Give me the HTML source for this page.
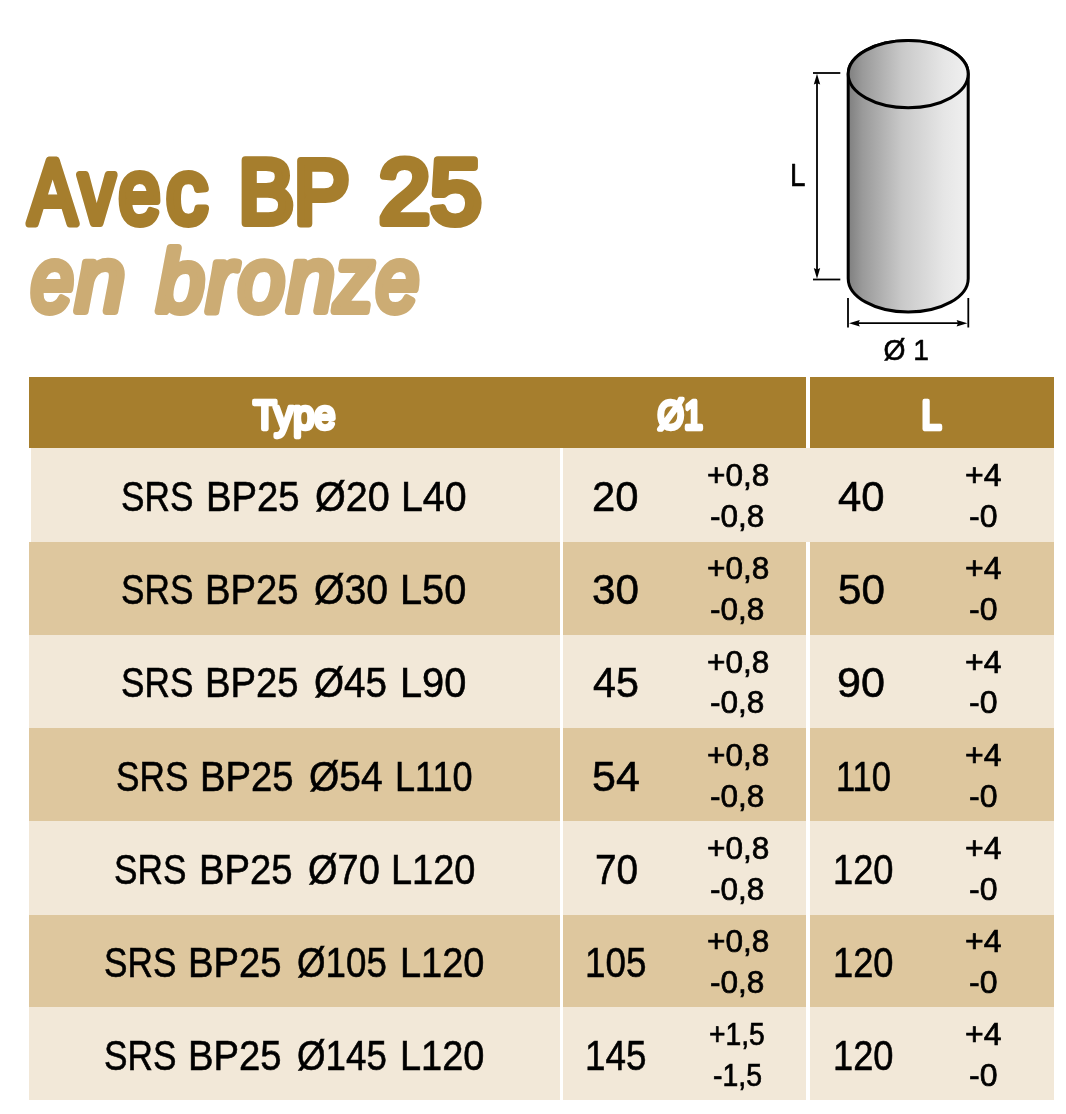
<!DOCTYPE html>
<html lang="fr">
<head>
<meta charset="utf-8">
<title>Avec BP 25 en bronze</title>
<style>
html,body{margin:0;padding:0;background:#fff;}
body{width:1066px;height:1114px;position:relative;overflow:hidden;font-family:"Liberation Sans",sans-serif;}
.t{position:absolute;white-space:nowrap;transform-origin:0 0;display:block;-webkit-text-stroke:0.6px #000;}
.s{-webkit-text-stroke:0.7px #000;}
.title{position:absolute;left:0;top:0;width:560px;height:370px;will-change:transform;}
.fig{position:absolute;left:760px;top:0;width:306px;height:377px;will-change:transform;}
.tbl{position:absolute;left:0;top:0;width:1066px;height:1114px;will-change:transform;}
.hd{position:absolute;left:29px;top:377.3px;width:1024.5px;height:70.5px;background:#A67E2D;}
.row{position:absolute;left:29px;width:1024.5px;height:93.63px;}
.row.l{background:#F2E8D8;}
.row.d{background:#DEC79E;}
.vl{position:absolute;background:#fff;}
.hsvg{position:absolute;left:29px;top:377px;}
</style>
</head>
<body>

<svg class="title" width="560" height="370" viewBox="0 0 560 370">
<g font-family="Liberation Sans, sans-serif" font-weight="400" stroke-linejoin="round" stroke-linecap="round" stroke-width="8" fill="#A67E2D" stroke="#A67E2D">
<text x="28.40" y="223" font-size="90" textLength="48.12" lengthAdjust="spacingAndGlyphs">A</text>
<text x="79.10" y="223" font-size="90" textLength="35.70" lengthAdjust="spacingAndGlyphs">v</text>
<text x="118.80" y="223" font-size="90" textLength="41.64" lengthAdjust="spacingAndGlyphs">e</text>
<text x="166.35" y="223" font-size="90" textLength="41.29" lengthAdjust="spacingAndGlyphs">c</text>
<text x="238.5" y="223" font-size="90" textLength="111" lengthAdjust="spacingAndGlyphs">BP</text>
<text x="379" y="223" font-size="90" textLength="102.3" lengthAdjust="spacingAndGlyphs">25</text>
</g>
<g font-family="Liberation Sans, sans-serif" font-weight="400" font-style="italic" stroke-linejoin="round" stroke-linecap="round" stroke-width="8" fill="#CCAC74" stroke="#CCAC74">
<text x="31.05" y="311" font-size="90" textLength="42.55" lengthAdjust="spacingAndGlyphs">e</text>
<text x="75.61" y="311" font-size="90" textLength="49.39" lengthAdjust="spacingAndGlyphs">n</text>
<text x="157.23" y="311" font-size="87" textLength="46.88" lengthAdjust="spacingAndGlyphs">b</text>
<text x="206.44" y="311" font-size="90" textLength="28.85" lengthAdjust="spacingAndGlyphs">r</text>
<text x="238.25" y="311" font-size="90" textLength="46.25" lengthAdjust="spacingAndGlyphs">o</text>
<text x="287.26" y="311" font-size="90" textLength="47.27" lengthAdjust="spacingAndGlyphs">n</text>
<text x="334.48" y="311" font-size="90" textLength="39.40" lengthAdjust="spacingAndGlyphs">z</text>
<text x="376.02" y="311" font-size="90" textLength="43.00" lengthAdjust="spacingAndGlyphs">e</text>
</g>
</svg>

<svg class="fig" width="306" height="377" viewBox="760 0 306 377">
<defs>
<linearGradient id="cg" x1="0" y1="0" x2="1" y2="0">
<stop offset="0" stop-color="#7f7f7f"/>
<stop offset="0.12" stop-color="#9a9a9a"/>
<stop offset="0.45" stop-color="#c9c9c9"/>
<stop offset="0.8" stop-color="#e6e6e6"/>
<stop offset="1" stop-color="#f0f0f0"/>
</linearGradient>
</defs>
<path d="M848.2 74.1 L848.2 278.4 A60 33.6 0 0 0 968.2 278.4 L968.2 74.1 A60 33.6 0 0 0 848.2 74.1 Z" fill="url(#cg)" stroke="#000" stroke-width="3" stroke-linejoin="round"/>
<ellipse cx="908.2" cy="74.1" rx="60" ry="33.6" fill="url(#cg)" stroke="#000" stroke-width="3"/>
<g stroke="#000" stroke-width="1.8" fill="none">
<line x1="813" y1="73" x2="840.3" y2="73"/>
<line x1="813" y1="279.5" x2="840.3" y2="279.5"/>
<line x1="817" y1="80" x2="817" y2="272"/>
<line x1="848" y1="298" x2="848" y2="327.5"/>
<line x1="968.3" y1="298" x2="968.3" y2="327.5"/>
<line x1="855" y1="323.2" x2="961" y2="323.2"/>
</g>
<g fill="#000">
<path d="M817 73.8 L813.8 84.6 L817 83.2 L820.2 84.6 Z"/>
<path d="M817 278.8 L813.8 268 L817 269.4 L820.2 268 Z"/>
<path d="M849 323.2 L859.8 320 L858.4 323.2 L859.8 326.4 Z"/>
<path d="M967.4 323.2 L956.6 320 L958 323.2 L956.6 326.4 Z"/>
</g>
<g font-family="Liberation Sans, sans-serif" fill="#000" stroke="#000" stroke-width="0.6" stroke-linejoin="round">
<text x="790" y="185.7" font-size="30.5" textLength="15.5" lengthAdjust="spacingAndGlyphs">L</text>
<text x="883.4" y="360.4" font-size="29.3" textLength="45.5" lengthAdjust="spacingAndGlyphs">Ø 1</text>
</g>
</svg>

<div class="tbl">
<div class="hd"></div>
<div class="row l" style="top:447.80px;height:94.00px;left:31px;width:1022.5px;"></div>
<div class="row d" style="top:541.50px;height:93.40px;"></div>
<div class="row l" style="top:634.60px;height:93.70px;"></div>
<div class="row d" style="top:728.00px;height:93.30px;"></div>
<div class="row l" style="top:821.00px;height:93.80px;"></div>
<div class="row d" style="top:914.50px;height:92.90px;"></div>
<div class="row l" style="top:1007.10px;height:93.30px;"></div>
<div class="vl" style="left:560.3px;top:447.8px;width:3.2px;height:652.6px"></div>
<div class="vl" style="left:806.3px;top:377.3px;width:3.6px;height:70.5px"></div>
<div class="vl" style="left:806.3px;top:541.5px;width:3.6px;height:558.9px"></div>
<svg class="hsvg" width="1025" height="71" viewBox="29 377 1025 71">
<g font-family="Liberation Sans, sans-serif" font-weight="400" font-size="40.5" fill="#fff" stroke="#fff" stroke-width="4.3" stroke-linejoin="round" stroke-linecap="round">
<text x="253.2" y="428.8" textLength="82.3" lengthAdjust="spacingAndGlyphs">Type</text>
<text x="657.4" y="428.8" textLength="45.5" lengthAdjust="spacingAndGlyphs">Ø1</text>
<text x="921.4" y="428.8" textLength="20" lengthAdjust="spacingAndGlyphs">L</text>
</g>
</svg>

<span class="t " style="left:121.38px;top:474.50px;font-size:43px;line-height:43px;font-weight:400;color:#000;transform:scaleX(0.8188)">SRS</span>
<span class="t " style="left:205.73px;top:474.50px;font-size:43px;line-height:43px;font-weight:400;color:#000;transform:scaleX(0.8896)">BP25</span>
<span class="t " style="left:314.78px;top:474.50px;font-size:43px;line-height:43px;font-weight:400;color:#000;transform:scaleX(0.9211)">Ø20</span>
<span class="t " style="left:401.16px;top:474.50px;font-size:43px;line-height:43px;font-weight:400;color:#000;transform:scaleX(0.9141)">L40</span>
<span class="t " style="left:592.35px;top:474.50px;font-size:43px;line-height:43px;font-weight:400;color:#000;transform:scaleX(0.9730)">20</span>
<span class="t s" style="left:706.58px;top:459.76px;font-size:31px;line-height:31px;font-weight:400;color:#000;transform:scaleX(1.0177)">+0,8</span>
<span class="t s" style="left:710.48px;top:500.56px;font-size:31px;line-height:31px;font-weight:400;color:#000;transform:scaleX(1.0180)">-0,8</span>
<span class="t " style="left:838.10px;top:474.50px;font-size:43px;line-height:43px;font-weight:400;color:#000;transform:scaleX(0.9741)">40</span>
<span class="t s" style="left:965.07px;top:459.76px;font-size:31px;line-height:31px;font-weight:400;color:#000;transform:scaleX(1.0322)">+4</span>
<span class="t s" style="left:968.77px;top:500.56px;font-size:31px;line-height:31px;font-weight:400;color:#000;transform:scaleX(1.0333)">-0</span>
<span class="t " style="left:120.98px;top:568.20px;font-size:43px;line-height:43px;font-weight:400;color:#000;transform:scaleX(0.8188)">SRS</span>
<span class="t " style="left:205.33px;top:568.20px;font-size:43px;line-height:43px;font-weight:400;color:#000;transform:scaleX(0.8896)">BP25</span>
<span class="t " style="left:314.39px;top:568.20px;font-size:43px;line-height:43px;font-weight:400;color:#000;transform:scaleX(0.9123)">Ø30</span>
<span class="t " style="left:400.43px;top:568.20px;font-size:43px;line-height:43px;font-weight:400;color:#000;transform:scaleX(0.9244)">L50</span>
<span class="t " style="left:592.42px;top:568.20px;font-size:43px;line-height:43px;font-weight:400;color:#000;transform:scaleX(0.9801)">30</span>
<span class="t s" style="left:706.58px;top:553.46px;font-size:31px;line-height:31px;font-weight:400;color:#000;transform:scaleX(1.0177)">+0,8</span>
<span class="t s" style="left:710.48px;top:594.26px;font-size:31px;line-height:31px;font-weight:400;color:#000;transform:scaleX(1.0180)">-0,8</span>
<span class="t " style="left:837.82px;top:568.20px;font-size:43px;line-height:43px;font-weight:400;color:#000;transform:scaleX(0.9801)">50</span>
<span class="t s" style="left:965.07px;top:553.46px;font-size:31px;line-height:31px;font-weight:400;color:#000;transform:scaleX(1.0322)">+4</span>
<span class="t s" style="left:968.77px;top:594.26px;font-size:31px;line-height:31px;font-weight:400;color:#000;transform:scaleX(1.0333)">-0</span>
<span class="t " style="left:120.98px;top:661.30px;font-size:43px;line-height:43px;font-weight:400;color:#000;transform:scaleX(0.8188)">SRS</span>
<span class="t " style="left:205.33px;top:661.30px;font-size:43px;line-height:43px;font-weight:400;color:#000;transform:scaleX(0.8896)">BP25</span>
<span class="t " style="left:314.40px;top:661.30px;font-size:43px;line-height:43px;font-weight:400;color:#000;transform:scaleX(0.8984)">Ø45</span>
<span class="t " style="left:400.43px;top:661.30px;font-size:43px;line-height:43px;font-weight:400;color:#000;transform:scaleX(0.9244)">L90</span>
<span class="t " style="left:592.50px;top:661.30px;font-size:43px;line-height:43px;font-weight:400;color:#000;transform:scaleX(0.9592)">45</span>
<span class="t s" style="left:706.58px;top:646.56px;font-size:31px;line-height:31px;font-weight:400;color:#000;transform:scaleX(1.0177)">+0,8</span>
<span class="t s" style="left:710.48px;top:687.36px;font-size:31px;line-height:31px;font-weight:400;color:#000;transform:scaleX(1.0180)">-0,8</span>
<span class="t " style="left:836.80px;top:661.30px;font-size:43px;line-height:43px;font-weight:400;color:#000;transform:scaleX(1.0019)">90</span>
<span class="t s" style="left:965.07px;top:646.56px;font-size:31px;line-height:31px;font-weight:400;color:#000;transform:scaleX(1.0322)">+4</span>
<span class="t s" style="left:968.77px;top:687.36px;font-size:31px;line-height:31px;font-weight:400;color:#000;transform:scaleX(1.0333)">-0</span>
<span class="t " style="left:116.08px;top:754.70px;font-size:43px;line-height:43px;font-weight:400;color:#000;transform:scaleX(0.8188)">SRS</span>
<span class="t " style="left:200.43px;top:754.70px;font-size:43px;line-height:43px;font-weight:400;color:#000;transform:scaleX(0.8896)">BP25</span>
<span class="t " style="left:309.49px;top:754.70px;font-size:43px;line-height:43px;font-weight:400;color:#000;transform:scaleX(0.9072)">Ø54</span>
<span class="t " style="left:394.68px;top:754.70px;font-size:43px;line-height:43px;font-weight:400;color:#000;transform:scaleX(0.8391)">L110</span>
<span class="t " style="left:591.50px;top:754.70px;font-size:43px;line-height:43px;font-weight:400;color:#000;transform:scaleX(0.9997)">54</span>
<span class="t s" style="left:706.58px;top:739.96px;font-size:31px;line-height:31px;font-weight:400;color:#000;transform:scaleX(1.0177)">+0,8</span>
<span class="t s" style="left:710.48px;top:780.76px;font-size:31px;line-height:31px;font-weight:400;color:#000;transform:scaleX(1.0180)">-0,8</span>
<span class="t " style="left:835.50px;top:754.70px;font-size:43px;line-height:43px;font-weight:400;color:#000;transform:scaleX(0.8014)">110</span>
<span class="t s" style="left:965.07px;top:739.96px;font-size:31px;line-height:31px;font-weight:400;color:#000;transform:scaleX(1.0322)">+4</span>
<span class="t s" style="left:968.77px;top:780.76px;font-size:31px;line-height:31px;font-weight:400;color:#000;transform:scaleX(1.0333)">-0</span>
<span class="t " style="left:114.18px;top:847.70px;font-size:43px;line-height:43px;font-weight:400;color:#000;transform:scaleX(0.8188)">SRS</span>
<span class="t " style="left:198.53px;top:847.70px;font-size:43px;line-height:43px;font-weight:400;color:#000;transform:scaleX(0.8896)">BP25</span>
<span class="t " style="left:307.62px;top:847.70px;font-size:43px;line-height:43px;font-weight:400;color:#000;transform:scaleX(0.8833)">Ø70</span>
<span class="t " style="left:390.85px;top:847.70px;font-size:43px;line-height:43px;font-weight:400;color:#000;transform:scaleX(0.8829)">L120</span>
<span class="t " style="left:595.20px;top:847.70px;font-size:43px;line-height:43px;font-weight:400;color:#000;transform:scaleX(0.9017)">70</span>
<span class="t s" style="left:706.58px;top:832.96px;font-size:31px;line-height:31px;font-weight:400;color:#000;transform:scaleX(1.0177)">+0,8</span>
<span class="t s" style="left:710.48px;top:873.76px;font-size:31px;line-height:31px;font-weight:400;color:#000;transform:scaleX(1.0180)">-0,8</span>
<span class="t " style="left:833.07px;top:847.70px;font-size:43px;line-height:43px;font-weight:400;color:#000;transform:scaleX(0.8433)">120</span>
<span class="t s" style="left:965.07px;top:832.96px;font-size:31px;line-height:31px;font-weight:400;color:#000;transform:scaleX(1.0322)">+4</span>
<span class="t s" style="left:968.77px;top:873.76px;font-size:31px;line-height:31px;font-weight:400;color:#000;transform:scaleX(1.0333)">-0</span>
<span class="t " style="left:103.68px;top:941.20px;font-size:43px;line-height:43px;font-weight:400;color:#000;transform:scaleX(0.8188)">SRS</span>
<span class="t " style="left:188.03px;top:941.20px;font-size:43px;line-height:43px;font-weight:400;color:#000;transform:scaleX(0.8896)">BP25</span>
<span class="t " style="left:297.15px;top:941.20px;font-size:43px;line-height:43px;font-weight:400;color:#000;transform:scaleX(0.8540)">Ø105</span>
<span class="t " style="left:399.85px;top:941.20px;font-size:43px;line-height:43px;font-weight:400;color:#000;transform:scaleX(0.8829)">L120</span>
<span class="t " style="left:584.53px;top:941.20px;font-size:43px;line-height:43px;font-weight:400;color:#000;transform:scaleX(0.8566)">105</span>
<span class="t s" style="left:706.58px;top:926.46px;font-size:31px;line-height:31px;font-weight:400;color:#000;transform:scaleX(1.0177)">+0,8</span>
<span class="t s" style="left:710.48px;top:967.26px;font-size:31px;line-height:31px;font-weight:400;color:#000;transform:scaleX(1.0180)">-0,8</span>
<span class="t " style="left:833.07px;top:941.20px;font-size:43px;line-height:43px;font-weight:400;color:#000;transform:scaleX(0.8433)">120</span>
<span class="t s" style="left:965.07px;top:926.46px;font-size:31px;line-height:31px;font-weight:400;color:#000;transform:scaleX(1.0322)">+4</span>
<span class="t s" style="left:968.77px;top:967.26px;font-size:31px;line-height:31px;font-weight:400;color:#000;transform:scaleX(1.0333)">-0</span>
<span class="t " style="left:103.68px;top:1033.80px;font-size:43px;line-height:43px;font-weight:400;color:#000;transform:scaleX(0.8188)">SRS</span>
<span class="t " style="left:188.03px;top:1033.80px;font-size:43px;line-height:43px;font-weight:400;color:#000;transform:scaleX(0.8896)">BP25</span>
<span class="t " style="left:297.15px;top:1033.80px;font-size:43px;line-height:43px;font-weight:400;color:#000;transform:scaleX(0.8540)">Ø145</span>
<span class="t " style="left:399.85px;top:1033.80px;font-size:43px;line-height:43px;font-weight:400;color:#000;transform:scaleX(0.8829)">L120</span>
<span class="t " style="left:584.53px;top:1033.80px;font-size:43px;line-height:43px;font-weight:400;color:#000;transform:scaleX(0.8566)">145</span>
<span class="t s" style="left:708.59px;top:1019.06px;font-size:31px;line-height:31px;font-weight:400;color:#000;transform:scaleX(0.9108)">+1,5</span>
<span class="t s" style="left:712.58px;top:1059.86px;font-size:31px;line-height:31px;font-weight:400;color:#000;transform:scaleX(0.9164)">-1,5</span>
<span class="t " style="left:833.07px;top:1033.80px;font-size:43px;line-height:43px;font-weight:400;color:#000;transform:scaleX(0.8433)">120</span>
<span class="t s" style="left:965.07px;top:1019.06px;font-size:31px;line-height:31px;font-weight:400;color:#000;transform:scaleX(1.0322)">+4</span>
<span class="t s" style="left:968.77px;top:1059.86px;font-size:31px;line-height:31px;font-weight:400;color:#000;transform:scaleX(1.0333)">-0</span>
</div>
</body>
</html>
